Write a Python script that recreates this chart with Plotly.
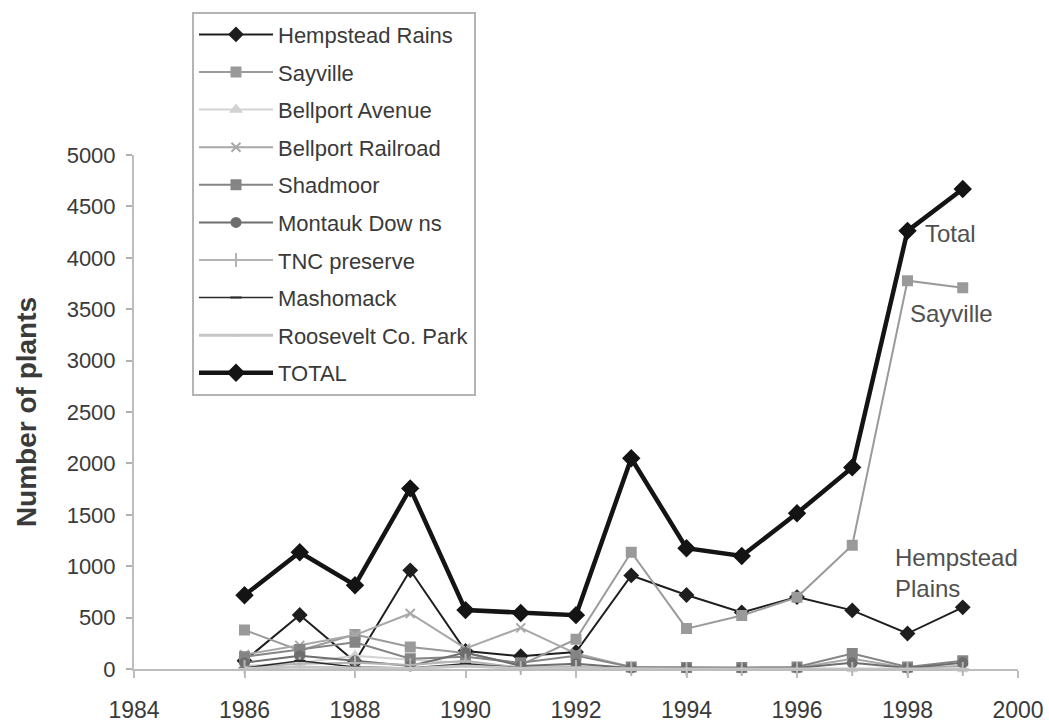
import plotly.graph_objects as go

years = [1986, 1987, 1988, 1989, 1990, 1991, 1992, 1993, 1994, 1995, 1996, 1997, 1998, 1999]

hempstead_plains = [80, 525, 70, 960, 175, 125, 165, 910, 720, 550, 700, 570, 345, 600]
sayville = [380, 180, 335, 215, 155, 40, 290, 1136, 393, 520, 697, 1204, 3777, 3709]
bellport_avenue = [30, 60, 130, 90, 60, 20, 30, 0, 0, 0, 0, 0, 0, 0]
bellport_railroad = [140, 230, 330, 540, 200, 400, 150, 20, 10, 10, 10, 100, 10, 30]
shadmoor = [120, 190, 260, 100, 120, 60, 130, 20, 15, 15, 20, 150, 20, 80]
montauk_downs = [60, 130, 80, 30, 160, 30, 50, 10, 10, 10, 10, 60, 10, 60]
tnc_preserve = [20, 50, 60, 40, 80, 10, 20, 0, 0, 0, 0, 0, 0, 0]
mashomack = [10, 80, 20, 10, 50, 10, 5, 0, 0, 0, 0, 0, 0, 0]
roosevelt = [5, 20, 10, 5, 30, 5, 5, 0, 0, 0, 0, 0, 0, 0]
total = [718, 1136, 815, 1757, 573, 544, 524, 2050, 1175, 1100, 1515, 1961, 4262, 4670]

x_ticks = [1984, 1986, 1988, 1990, 1992, 1994, 1996, 1998, 2000]
y_ticks = [0, 500, 1000, 1500, 2000, 2500, 3000, 3500, 4000, 4500, 5000]

series = [
    ("Hempstead Rains", hempstead_plains, "#1e1e1e", 2, "diamond", 10),
    ("Sayville", sayville, "#9a9a9a", 2, "square", 9),
    ("Bellport Avenue", bellport_avenue, "#d2d2d2", 2, "triangle-up", 9),
    ("Bellport Railroad", bellport_railroad, "#a8a8a8", 2, "x-thin-open", 9),
    ("Shadmoor", shadmoor, "#858585", 2, "square-x", 9),
    ("Montauk Dow ns", montauk_downs, "#6e6e6e", 2, "circle", 9),
    ("TNC preserve", tnc_preserve, "#b4b4b4", 2, "line-ns-open", 10),
    ("Mashomack", mashomack, "#2a2a2a", 1.5, "line-ew-open", 8),
    ("Roosevelt Co. Park", roosevelt, "#c6c6c6", 3, "line-ew-open", 9),
    ("TOTAL", total, "#141414", 4.5, "diamond", 12),
]

fig = go.Figure()
for i, (name, vals, col, lw, sym, ms) in enumerate(series):
    fig.add_trace(go.Scatter(
        x=years, y=vals, name=name, mode="lines+markers",
        legendgroup=f"g{i}",
        line=dict(color=col, width=lw),
        marker=dict(symbol=sym, size=ms, color=col, line=dict(color=col, width=2)),
        cliponaxis=False,
    ))

txt = "#3a3a3a"
fig.update_layout(
    width=1049, height=726,
    paper_bgcolor="white", plot_bgcolor="white",
    margin=dict(l=134, r=31, t=153, b=57),
    font=dict(family="Liberation Sans, Arial, sans-serif", color=txt),
    showlegend=True,
    legend=dict(
        x=0.0656, y=1.279, xanchor="left", yanchor="top",
        bgcolor="white", bordercolor="#b4b4b4", borderwidth=2,
        font=dict(size=22, color=txt),
        tracegroupgap=6, itemwidth=74, maxheight=600,
    ),
    xaxis=dict(
        range=[1984, 2000], tickmode="array", tickvals=x_ticks,
        ticktext=[str(v) for v in x_ticks],
        showgrid=False, zeroline=False, automargin=False,
        showline=True, linecolor="#bdbdbd", linewidth=2,
        ticks="outside", ticklen=7, tickcolor="#bdbdbd", tickwidth=2,
        tickfont=dict(size=23, color=txt), ticklabelstandoff=12,
    ),
    yaxis=dict(
        range=[0, 5000], tickmode="array", tickvals=y_ticks,
        showgrid=False, zeroline=False, automargin=False,
        showline=True, linecolor="#bdbdbd", linewidth=2,
        ticks="outside", ticklen=6, tickcolor="#b0b0b0", tickwidth=2,
        tickfont=dict(size=22, color=txt), ticklabelstandoff=6,
        title=dict(text="<b>Number of plants</b>", font=dict(size=28, color=txt), standoff=22),
    ),
    annotations=[
        dict(x=1998.28, y=4238, text="Total", showarrow=False, xanchor="left", yanchor="middle",
             font=dict(size=24, color="#505050")),
        dict(x=1998.01, y=3461, text="Sayville", showarrow=False, xanchor="left", yanchor="middle",
             font=dict(size=24, color="#505050")),
        dict(x=1997.74, y=937, text="Hempstead<br>Plains", showarrow=False, xanchor="left", yanchor="middle",
             align="left", font=dict(size=24, color="#505050")),
    ],
)

fig.write_html("out.html", config={"displayModeBar": False},
               post_script="document.body.style.margin='0';document.body.style.overflow='hidden';")
